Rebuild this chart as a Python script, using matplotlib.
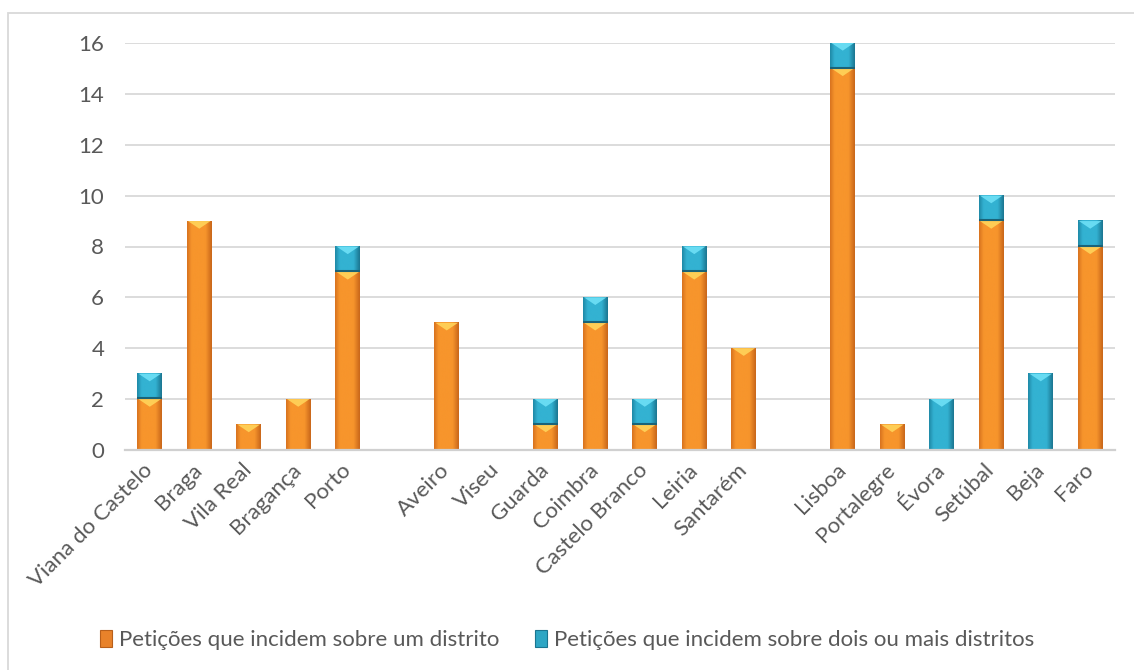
import numpy as np
import matplotlib.pyplot as plt
from matplotlib.colors import LinearSegmentedColormap
from matplotlib.patches import Polygon, Rectangle
from matplotlib.transforms import ScaledTranslation

# distritos (as entradas vazias separam os grupos regionais)
distritos = ["Viana do Castelo", "Braga", "Vila Real", "Bragança", "Porto", "",
             "Aveiro", "Viseu", "Guarda", "Coimbra", "Castelo Branco", "Leiria", "Santarém", "",
             "Lisboa", "Portalegre", "Évora", "Setúbal", "Beja", "Faro"]
um_distrito = [2, 9, 1, 2, 7, 0, 5, 0, 1, 5, 1, 7, 4, 0, 15, 1, 0, 9, 0, 8]
varios_distritos = [1, 0, 0, 0, 1, 0, 0, 0, 1, 1, 1, 1, 0, 0, 1, 0, 2, 1, 3, 1]

serie_1 = "Petições que incidem sobre um distrito"
serie_2 = "Petições que incidem sobre dois ou mais distritos"

texto = "#595959"
grelha = "#d9d9d9"

plt.rcParams['font.family'] = ['Lato', 'DejaVu Sans']

W, H = 1134, 670
fig = plt.figure(figsize=(W / 100, H / 100), dpi=100)
ax = fig.add_axes([125 / W, 1 - 450 / H, 990 / W, 407 / H])

# moldura do gráfico
fig.patches.append(Rectangle((8 / W, -0.1), 1.2, 1 - 13 / H + 0.1, transform=fig.transFigure,
                             fill=False, ec=grelha, lw=1.3))

x = np.arange(len(distritos))
largura = 0.505
b1 = ax.bar(x, um_distrito, largura, color="#f39129", zorder=2)
b2 = ax.bar(x, varios_distritos, largura, bottom=um_distrito, color="#2fa9c8", zorder=2)


def sombrear(barras, borda, meio, borda_esc, ponta, base):
    cmap = LinearSegmentedColormap.from_list("", [(0, borda), (0.18, meio), (0.75, meio), (1, borda_esc)])
    grad = np.linspace(0, 1, 64).reshape(1, -1)
    for b in barras:
        x0, y0 = b.get_x(), b.get_y()
        w, h = b.get_width(), b.get_height()
        if h <= 0:
            continue
        ax.imshow(grad, cmap=cmap, extent=[x0, x0 + w, y0, y0 + h], aspect='auto',
                  interpolation='bicubic', zorder=3)
        if base and y0 > 0:
            ax.plot([x0, x0 + w], [y0 + 0.03, y0 + 0.03], color=base, lw=1.5, zorder=4,
                    solid_capstyle='butt')
        topo = y0 + h
        ax.add_patch(Polygon([[x0 + 0.05 * w, topo], [x0 + 0.95 * w, topo],
                              [x0 + 0.5 * w, topo - 0.3]], closed=True,
                             fc=ponta, ec='none', alpha=0.9, zorder=4))


sombrear(b1, "#d7721f", "#f7952c", "#c8661a", "#ffd45a", None)
sombrear(b2, "#1f88a6", "#33b2d2", "#1b7590", "#6ee0f6", "#1a6378")

ax.set_xlim(-0.5, len(distritos) - 0.5)
ax.set_ylim(0, 16)
ax.set_yticks(np.arange(0, 17, 2))
ax.yaxis.grid(True, color=grelha, lw=1.3, zorder=0)
ax.set_axisbelow(True)
for s in ["top", "right", "left"]:
    ax.spines[s].set_visible(False)
ax.spines["bottom"].set_color("#d0d0d0")
ax.spines["bottom"].set_linewidth(1.6)
ax.spines["bottom"].set_zorder(5)

ax.set_xticks(x)
ax.set_xticklabels(distritos, rotation=45, ha="right", va="center", rotation_mode="anchor",
                   fontsize=16, color=texto)
desloc = ScaledTranslation(8 / 100, 0, fig.dpi_scale_trans)
for lbl in ax.get_xticklabels():
    lbl.set_transform(lbl.get_transform() + desloc)
ax.tick_params(axis="x", length=0, pad=12)
ax.tick_params(axis="y", length=0, pad=15, labelsize=16, labelcolor=texto)

h1 = Rectangle((0, 0), 1, 1, fc="#e8822a", ec="#b85f1a", lw=0.8)
h2 = Rectangle((0, 0), 1, 1, fc="#2ea6c4", ec="#1b7590", lw=0.8)
fig.legend([h1, h2], [serie_1, serie_2], loc="center", bbox_to_anchor=(0.5, 1 - 640 / H),
           ncol=2, frameon=False, fontsize=16, labelcolor=texto,
           handlelength=0.55, handleheight=0.8, handletextpad=0.3, columnspacing=1.6)

fig.savefig("out.png", dpi=100)
